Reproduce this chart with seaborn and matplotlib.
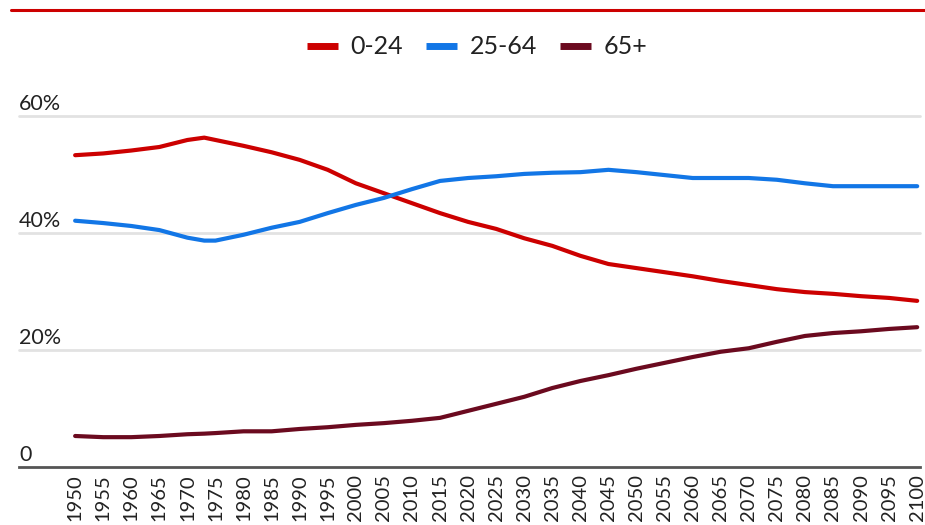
import matplotlib
matplotlib.use("Agg")
import matplotlib.pyplot as plt
from matplotlib.lines import Line2D
from matplotlib.transforms import blended_transform_factory
import seaborn as sns
import pandas as pd

# Share of population by age group (%)
years = [1950, 1955, 1960, 1965, 1970, 1973, 1975, 1980, 1985, 1990, 1995,
         2000, 2005, 2010, 2015, 2020, 2025, 2030, 2035, 2040, 2045, 2050,
         2055, 2060, 2065, 2070, 2075, 2080, 2085, 2090, 2095, 2100]
age_0_24 = [53.3, 53.6, 54.1, 54.7, 55.9, 56.3, 55.9, 54.9, 53.8, 52.5, 50.8,
            48.5, 46.8, 45.1, 43.4, 41.9, 40.7, 39.1, 37.8, 36.1, 34.7, 34.0,
            33.3, 32.6, 31.8, 31.1, 30.4, 29.9, 29.6, 29.2, 28.9, 28.4]
age_25_64 = [42.1, 41.7, 41.2, 40.5, 39.2, 38.7, 38.7, 39.7, 40.9, 41.9, 43.4,
             44.8, 46.0, 47.5, 48.9, 49.4, 49.7, 50.1, 50.3, 50.4, 50.8, 50.4,
             49.9, 49.4, 49.4, 49.4, 49.1, 48.5, 48.0, 48.0, 48.0, 48.0]
age_65_plus = [5.3, 5.1, 5.1, 5.3, 5.6, 5.7, 5.8, 6.1, 6.1, 6.5, 6.8,
               7.2, 7.5, 7.9, 8.4, 9.6, 10.8, 12.0, 13.5, 14.7, 15.7, 16.8,
               17.8, 18.8, 19.7, 20.3, 21.4, 22.4, 22.9, 23.2, 23.6, 23.9]
groups = ["0-24", "25-64", "65+"]
y_ticks = [0, 20, 40, 60]
y_tick_labels = ["0", "20%", "40%", "60%"]
x_ticks = list(range(1950, 2101, 5))

colors = {"0-24": "#cc0000", "25-64": "#1276e6", "65+": "#6b0a1f"}

df = pd.DataFrame({
    "year": years * 3,
    "share": age_0_24 + age_25_64 + age_65_plus,
    "group": [g for g in groups for _ in years],
})

sns.set_theme(style="white")
plt.rcParams["font.family"] = ["Lato", "DejaVu Sans"]
text_color = "#222222"

fig = plt.figure(figsize=(9.25, 5.25), dpi=100)
ax = fig.add_axes([19 / 925, 58 / 525, 901 / 925, 351 / 525])

sns.lineplot(data=df, x="year", y="share", hue="group", hue_order=groups,
             palette=colors, linewidth=3, ax=ax, legend=False)

ax.set_xlim(1940.0, 2100.5)
ax.set_ylim(0, 60)

for s in ["top", "right", "left"]:
    ax.spines[s].set_visible(False)
ax.spines["bottom"].set_color("#555555")
ax.spines["bottom"].set_linewidth(2)

for v in y_ticks[1:]:
    ax.axhline(v, color="#e2e2e2", linewidth=2, zorder=0, clip_on=False)

ax.set_yticks([])
trans = blended_transform_factory(ax.transAxes, ax.transData)
for v, lab in zip(y_ticks, y_tick_labels):
    ax.text(0, v + 1.1, lab, transform=trans, ha="left", va="baseline",
            fontsize=15.5, color=text_color)

ax.set_xticks(x_ticks)
ax.set_xticklabels([str(x) for x in x_ticks], rotation=90, fontsize=14.5,
                   color=text_color)
ax.tick_params(axis="x", length=0, pad=5)
ax.set_xlabel("")
ax.set_ylabel("")

handles = [Line2D([0], [0], color=colors[g], linewidth=5,
                  solid_capstyle="butt") for g in groups]
fig.legend(handles, groups, loc="center", bbox_to_anchor=(477 / 925, 1 - 47 / 525),
           ncol=3, frameon=False, handlelength=1.25, handletextpad=0.5,
           columnspacing=0.9, labelcolor=text_color, prop={"size": 18})

# Accent rule across the top
fig.add_artist(Line2D([11 / 925, 1.0], [1 - 10 / 525, 1 - 10 / 525],
                      color="#cc0000", linewidth=2.2, transform=fig.transFigure))

fig.savefig("out.png", dpi=100)
